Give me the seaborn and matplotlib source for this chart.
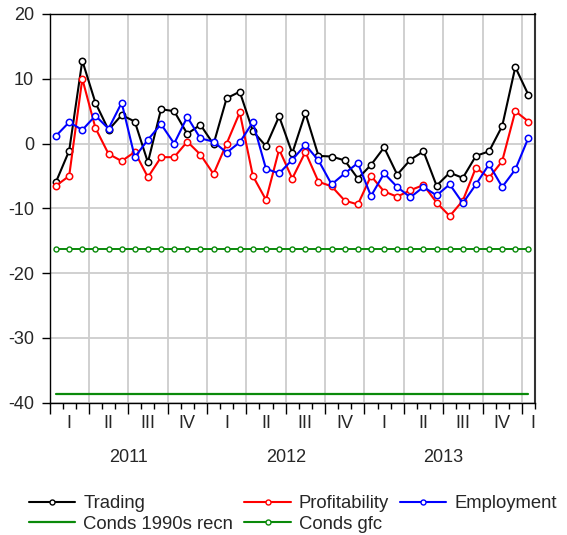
import numpy as np
import pandas as pd
import seaborn as sns
import matplotlib
matplotlib.use("Agg")
import matplotlib.pyplot as plt
import matplotlib.transforms as mtransforms
from matplotlib.lines import Line2D

# ---- data (monthly, Jan 2011 .. Jan 2014) ----
trading = [-5.9, -1.1, 12.8, 6.3, 2.1, 4.4, 3.4, -2.9, 5.3, 5.0, 1.5, 2.9,
           -0.1, 7.0, 8.0, 1.9, -0.4, 4.2, -1.5, 4.7, -1.9, -2.0, -2.6, -5.4,
           -3.3, -0.6, -4.8, -2.5, -1.2, -6.5, -4.5, -5.3, -1.9, -1.2, 2.7, 11.8,
           7.5]
profitability = [-6.5, -5.0, 10.0, 2.4, -1.6, -2.7, -1.3, -5.2, -2.1, -2.1, 0.3, -1.7,
                 -4.7, 0.0, 4.8, -5.0, -8.7, -0.9, -5.4, -1.3, -5.9, -6.6, -8.8, -9.4,
                 -5.0, -7.4, -8.2, -7.2, -6.4, -9.1, -11.2, -8.8, -3.7, -5.3, -2.7, 5.0,
                 3.4]
employment = [1.2, 3.3, 2.1, 4.3, 2.3, 6.3, -2.1, 0.6, 3.0, 0.0, 4.1, 0.8,
              0.3, -1.4, 0.2, 3.3, -3.9, -4.6, -2.5, -0.2, -2.6, -6.3, -4.6, -3.0,
              -8.1, -4.6, -6.7, -8.3, -6.7, -8.0, -6.3, -9.2, -6.3, -3.2, -6.7, -4.0,
              0.9]
conds_1990s_level = -38.7
conds_gfc_level = -16.3
months = list(range(len(trading)))
conds_1990s = [conds_1990s_level] * len(months)
conds_gfc = [conds_gfc_level] * len(months)

quarter_labels = ["I", "II", "III", "IV"] * 3 + ["I"]
years = ["2011", "2012", "2013"]
y_ticks = [20, 10, 0, -10, -20, -30, -40]

df = pd.DataFrame({"month": months, "Trading": trading, "Profitability": profitability,
                   "Employment": employment, "Conds 1990s recn": conds_1990s,
                   "Conds gfc": conds_gfc})

sns.set_theme(style="white")
plt.rcParams["font.family"] = ["Liberation Sans", "DejaVu Sans"]

W, H = 567, 535
fig = plt.figure(figsize=(W / 100, H / 100), dpi=100)
ax = fig.add_axes([49.5 / W, 1 - 402.7 / H, (535 - 49.5) / W, (402.7 - 14) / H])

green = "#0a8a0a"
mk = dict(marker="o", markersize=4.6, markerfacecolor="white", markeredgewidth=1.1)

sns.lineplot(data=df, x="month", y="Conds 1990s recn", ax=ax, color=green, lw=1.6)
sns.lineplot(data=df, x="month", y="Conds gfc", ax=ax, color=green, lw=1.4,
             marker="o", markersize=3.6, markerfacecolor="white",
             markeredgecolor=green, markeredgewidth=1.0)
sns.lineplot(data=df, x="month", y="Trading", ax=ax, color="black", lw=1.5,
             markeredgecolor="black", **mk)
sns.lineplot(data=df, x="month", y="Profitability", ax=ax, color="#ff0000", lw=1.5,
             markeredgecolor="#ff0000", **mk)
sns.lineplot(data=df, x="month", y="Employment", ax=ax, color="#0000ff", lw=1.5,
             markeredgecolor="#0000ff", **mk)

ax.set_xlim(-0.5, len(months) - 0.5)
ax.set_ylim(-40, 20)
ax.set_xlabel("")
ax.set_ylabel("")

# grid
ax.set_yticks(y_ticks)
ax.set_yticklabels([str(t) for t in y_ticks], fontsize=13)
qb = np.arange(-0.5, len(months), 3)
ax.set_xticks(qb)
ax.set_xticklabels([])
ax.set_xticks(np.arange(-0.5, len(months), 1), minor=True)
ax.grid(True, which="major", color="#cdcdcd", lw=1.3)
ax.set_axisbelow(True)
ax.tick_params(axis="y", which="major", direction="out", length=6, width=1,
               color="black", left=True, pad=5)
ax.tick_params(axis="x", which="major", direction="out", length=8, width=1,
               color="black", bottom=True)
ax.tick_params(axis="x", which="minor", direction="out", length=4, width=1,
               color="black", bottom=True)
for s in ax.spines.values():
    s.set_color("black")
    s.set_linewidth(1.0)
ax.spines["right"].set_linewidth(1.5)
ax.spines["right"].set_color("#333333")

trans = mtransforms.blended_transform_factory(ax.transData, fig.transFigure)
for i, lab in enumerate(quarter_labels):
    xc = 3 * i + 1 if i < 12 else 36.35
    ax.text(xc, 1 - 424 / H, lab, transform=trans, ha="center", va="center",
            fontsize=13)
for i, yr in enumerate(years):
    ax.text(12 * i + 5.5, 1 - 457 / H, yr, transform=trans, ha="center",
            va="center", fontsize=13)

def h(color, marker=True):
    if marker:
        return Line2D([], [], color=color, lw=1.5, marker="o", markersize=3.6,
                      markerfacecolor="white", markeredgecolor=color)
    return Line2D([], [], color=color, lw=1.6)

leg_kw = dict(loc="upper left", frameon=False, fontsize=13.3, handlelength=2.5,
              handletextpad=0.45, columnspacing=0.6, labelspacing=0.2,
              borderpad=0, borderaxespad=0)
leg1 = fig.legend([h("black"), h(green, False), h("#ff0000"), h(green)],
                  ["Trading", "Conds 1990s recn", "Profitability", "Conds gfc"],
                  ncol=2, bbox_to_anchor=(29 / W, 1 - 495 / H), **leg_kw)
leg2 = fig.legend([h("#0000ff")], ["Employment"], ncol=1,
                  bbox_to_anchor=(400 / W, 1 - 495 / H), **leg_kw)

fig.savefig("out.png", dpi=100)
